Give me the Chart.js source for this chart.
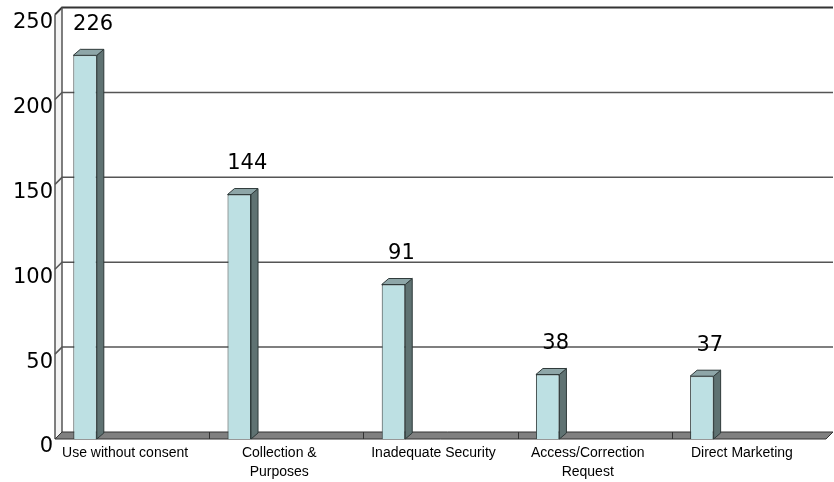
<!DOCTYPE html>
<html>
<head>
<meta charset="utf-8">
<script src="https://cdn.jsdelivr.net/npm/chart.js@4"></script>
<style>
    html, body { margin: 0; padding: 0; background: #fff; }
    #wrap { width: 834px; height: 482px; position: relative; }
</style>
</head>
<body>
<div id="wrap"><canvas id="chartComplaints"></canvas></div>
<script>
// Dados do gráfico
const categories = [
    'Use without consent',
    ['Collection &', 'Purposes'],
    'Inadequate Security',
    ['Access/Correction', 'Request'],
    'Direct Marketing'
];
const complaints = [226, 144, 91, 38, 37];
const blankSeries = [null, null, null, null, null]; // segunda série vazia do original
const yMin = 0;
const yMax = 250;
const yStep = 50;

// Profundidade do efeito 3D (px)
const DEPTH_X = 7;
const DEPTH_Y = 7;

const walls3d = {
    id: 'walls3d',
    beforeDatasetsDraw(chart) {
        const { ctx, chartArea: a, scales: { x, y } } = chart;
        ctx.save();

        // parede lateral esquerda
        ctx.fillStyle = '#f3f3f3';
        ctx.beginPath();
        ctx.moveTo(a.left, a.top);
        ctx.lineTo(a.left + DEPTH_X, a.top - DEPTH_Y);
        ctx.lineTo(a.left + DEPTH_X, a.bottom - DEPTH_Y);
        ctx.lineTo(a.left, a.bottom);
        ctx.closePath();
        ctx.fill();

        // linhas de grade na parede do fundo + diagonais na lateral
        ctx.strokeStyle = '#555';
        ctx.lineWidth = 1.5;
        for (let v = yMin + yStep; v < yMax; v += yStep) {
            const py = y.getPixelForValue(v);
            ctx.beginPath();
            ctx.moveTo(a.left, py);
            ctx.lineTo(a.left + DEPTH_X, py - DEPTH_Y);
            ctx.lineTo(a.right + DEPTH_X, py - DEPTH_Y);
            ctx.stroke();
        }

        // topo da parede
        const topY = y.getPixelForValue(yMax);
        ctx.strokeStyle = '#333';
        ctx.lineWidth = 2;
        ctx.beginPath();
        ctx.moveTo(a.left, topY);
        ctx.lineTo(a.left + DEPTH_X, topY - DEPTH_Y);
        ctx.lineTo(a.right + DEPTH_X, topY - DEPTH_Y);
        ctx.stroke();

        // arestas verticais da parede lateral
        ctx.strokeStyle = '#555';
        ctx.lineWidth = 1.5;
        ctx.beginPath();
        ctx.moveTo(a.left, topY);
        ctx.lineTo(a.left, a.bottom);
        ctx.moveTo(a.left + DEPTH_X, topY - DEPTH_Y);
        ctx.lineTo(a.left + DEPTH_X, a.bottom - DEPTH_Y);
        ctx.stroke();

        // piso
        ctx.fillStyle = '#808080';
        ctx.strokeStyle = '#333';
        ctx.lineWidth = 1;
        ctx.beginPath();
        ctx.moveTo(a.left, a.bottom);
        ctx.lineTo(a.right, a.bottom);
        ctx.lineTo(a.right + DEPTH_X, a.bottom - DEPTH_Y);
        ctx.lineTo(a.left + DEPTH_X, a.bottom - DEPTH_Y);
        ctx.closePath();
        ctx.fill();
        ctx.stroke();

        // divisões entre categorias no piso
        const catW = (a.right - a.left) / categories.length;
        ctx.strokeStyle = '#333';
        ctx.beginPath();
        for (let i = 1; i < categories.length; i++) {
            const px = Math.round(a.left + i * catW) + 0.5;
            ctx.moveTo(px, a.bottom);
            ctx.lineTo(px, a.bottom - DEPTH_Y);
        }
        ctx.stroke();
        ctx.restore();
    },
    afterDatasetsDraw(chart) {
        const { ctx } = chart;
        const meta = chart.getDatasetMeta(0);
        ctx.save();
        meta.data.forEach((bar, i) => {
            const p = bar.getProps(['x', 'y', 'base', 'width'], true);
            const x1 = p.x - p.width / 2;
            const x2 = p.x + p.width / 2;
            const dx = DEPTH_X, dy = DEPTH_Y - 1;

            ctx.strokeStyle = '#2f3a3a';
            ctx.lineWidth = 1;

            // lateral
            ctx.fillStyle = '#5f7272';
            ctx.beginPath();
            ctx.moveTo(x2, p.y);
            ctx.lineTo(x2 + dx, p.y - dy);
            ctx.lineTo(x2 + dx, p.base - dy);
            ctx.lineTo(x2, p.base);
            ctx.closePath();
            ctx.fill();
            ctx.stroke();

            // topo
            ctx.fillStyle = '#8ea6a8';
            ctx.beginPath();
            ctx.moveTo(x1, p.y);
            ctx.lineTo(x1 + dx, p.y - dy);
            ctx.lineTo(x2 + dx, p.y - dy);
            ctx.lineTo(x2, p.y);
            ctx.closePath();
            ctx.fill();
            ctx.stroke();

            // rótulo de valor
            ctx.fillStyle = '#000';
            ctx.font = '21px "DejaVu Sans"';
            ctx.textAlign = 'center';
            ctx.textBaseline = 'middle';
            ctx.fillText(String(complaints[i]), p.x + 8, p.y - 31);
        });
        ctx.restore();
    }
};

const ctx = document.getElementById('chartComplaints').getContext('2d');
new Chart(ctx, {
    type: 'bar',
    data: {
        labels: categories,
        datasets: [{
            label: 'Complaints',
            data: complaints,
            backgroundColor: '#bde0e3',
            borderColor: '#2f3a3a',
            borderWidth: 1,
            categoryPercentage: 1.22,
            barPercentage: 0.25
        }, {
            label: '',
            data: blankSeries,
            categoryPercentage: 1.22,
            barPercentage: 0.25
        }]
    },
    options: {
        responsive: true,
        maintainAspectRatio: false,
        animation: false,
        layout: { padding: { top: 14, right: 8, left: 0, bottom: 0 } },
        plugins: {
            legend: { display: false },
            tooltip: { enabled: false }
        },
        scales: {
            x: {
                grid: { display: false },
                border: { display: false },
                ticks: {
                    color: '#000',
                    font: { family: '"Liberation Sans", Arial', size: 14, lineHeight: 1.4 },
                    padding: -4,
                    labelOffset: -7,
                    maxRotation: 0,
                    autoSkip: false
                },
                afterFit: s => { s.height = 43; }
            },
            y: {
                min: yMin,
                max: yMax,
                grid: { display: false, drawTicks: false },
                border: { display: false },
                ticks: {
                    stepSize: yStep,
                    color: '#000',
                    font: { family: '"DejaVu Sans"', size: 21 },
                    padding: 2,
                    labelOffset: 8
                },
                afterFit: s => { s.width = 55; }
            }
        }
    },
    plugins: [walls3d]
});
</script>
</body>
</html>
